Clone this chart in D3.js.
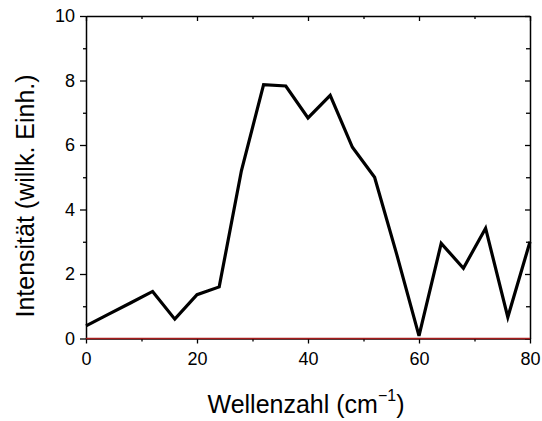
<!DOCTYPE html>
<html><head><meta charset="utf-8">
<script src="https://cdn.jsdelivr.net/npm/d3@7"></script>
<style>body{margin:0;background:#fff;} text{font-family:"Liberation Sans",Arial,sans-serif;}</style>
</head><body>
<svg id="chart" width="542" height="421"></svg>
<script>
const wavenumber = [0, 4, 8, 12, 16, 20, 24, 28, 32, 36, 40, 44, 48, 52, 56, 60, 64, 68, 72, 76, 80];
const intensity = [0.39, 0.75, 1.1, 1.46, 0.6, 1.36, 1.6, 5.2, 7.87, 7.83, 6.84, 7.54, 5.93, 5.0, 2.6, 0.08, 2.95, 2.18, 3.42, 0.66, 3.0];
const xTicks = [0, 20, 40, 60, 80];
const yTicks = [0, 2, 4, 6, 8, 10];
const xMinor = [10, 30, 50, 70];
const yMinor = [1, 3, 5, 7, 9];

const svg = d3.select("#chart");
const L = 86, R = 530, T = 16, B = 338.5;
const x = d3.scaleLinear().domain([0, 80]).range([L, R]);
const y = d3.scaleLinear().domain([0, 10]).range([B, T]);

function styleAxis(g){
  g.select(".domain").attr("stroke","#000").attr("stroke-width",1.5);
  g.selectAll(".tick line").attr("stroke","#000").attr("stroke-width",1.3);
}
function minorStyle(g){ g.select(".domain").remove(); g.selectAll(".tick line").attr("stroke","#000").attr("stroke-width",1.3); }
// bottom
const gb = svg.append("g").attr("transform",`translate(0,${B})`)
  .call(d3.axisBottom(x).tickValues(xTicks).tickSize(5).tickSizeOuter(0).tickPadding(9));
gb.selectAll(".tick text").attr("font-size",18).attr("fill","#000");
styleAxis(gb);
svg.append("g").attr("transform",`translate(0,${B})`)
  .call(d3.axisBottom(x).tickValues(xMinor).tickSize(3).tickSizeOuter(0).tickFormat("")).call(minorStyle);
// top
const gt = svg.append("g").attr("transform",`translate(0,${T})`)
  .call(d3.axisTop(x).tickValues(xTicks).tickSize(-5).tickSizeOuter(0).tickFormat(""));
styleAxis(gt);
svg.append("g").attr("transform",`translate(0,${T})`)
  .call(d3.axisTop(x).tickValues(xMinor).tickSize(-3).tickSizeOuter(0).tickFormat("")).call(minorStyle);
// left
const gl = svg.append("g").attr("transform",`translate(${L},0)`)
  .call(d3.axisLeft(y).tickValues(yTicks).tickSize(6).tickSizeOuter(0).tickPadding(5));
gl.selectAll(".tick text").attr("font-size",18).attr("fill","#000");
styleAxis(gl);
svg.append("g").attr("transform",`translate(${L},0)`)
  .call(d3.axisLeft(y).tickValues(yMinor).tickSize(3).tickSizeOuter(0).tickFormat("")).call(minorStyle);
// right
const gr = svg.append("g").attr("transform",`translate(${R},0)`)
  .call(d3.axisRight(y).tickValues(yTicks).tickSize(-5).tickSizeOuter(0).tickFormat(""));
styleAxis(gr);
svg.append("g").attr("transform",`translate(${R},0)`)
  .call(d3.axisRight(y).tickValues(yMinor).tickSize(-4).tickSizeOuter(0).tickFormat("")).call(minorStyle);

// zero line
svg.append("line").attr("x1",x(0)).attr("x2",x(80)).attr("y1",y(0)).attr("y2",y(0))
  .attr("stroke","#a61c1c").attr("stroke-width",1.5);

// data line
const line = d3.line().x((d,i)=>x(wavenumber[i])).y(d=>y(d));
svg.append("path").datum(intensity).attr("d",line)
  .attr("fill","none").attr("stroke","#000").attr("stroke-width",3.2).attr("stroke-linejoin","miter");

// axis labels
const xl = svg.append("text").attr("x",306).attr("y",412.5).attr("text-anchor","middle")
  .attr("font-size",25).attr("fill","#000");
xl.append("tspan").text("Wellenzahl (cm");
xl.append("tspan").attr("font-size",16).attr("dy",-12).text("\u22121");
xl.append("tspan").attr("dy",12).text(")");

svg.append("text").attr("transform",`translate(34,196) rotate(-90)`)
  .attr("text-anchor","middle").attr("font-size",25).attr("fill","#000")
  .text("Intensität (willk. Einh.)");
</script>
</body></html>
